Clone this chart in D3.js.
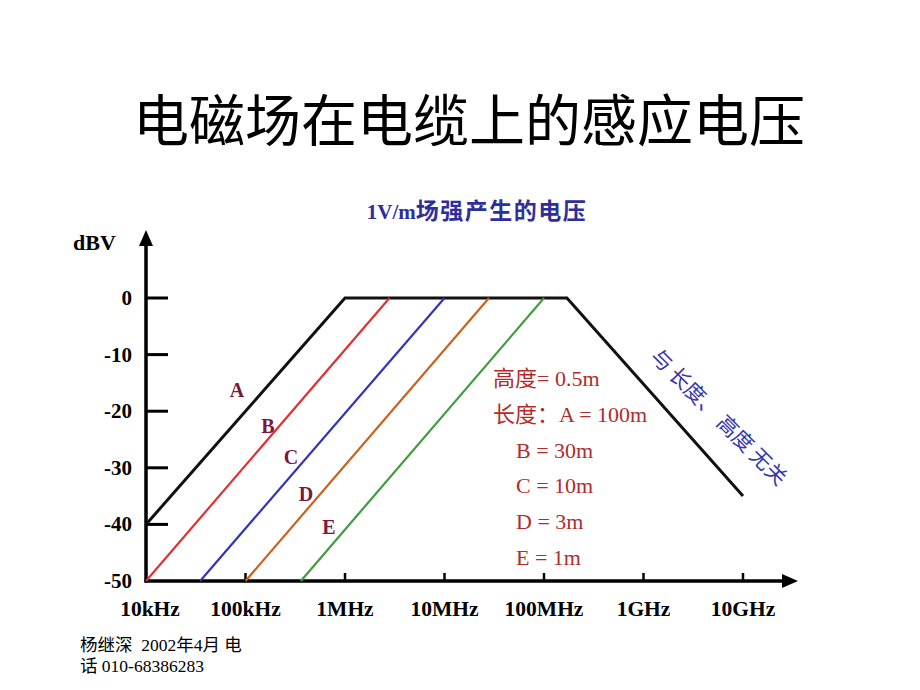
<!DOCTYPE html>
<html>
<head>
<meta charset="utf-8">
<script src="https://cdn.jsdelivr.net/npm/d3@7"></script>
<style>
  body { margin: 0; background: #fff; }
  svg { display: block; }
  text { font-family: "Liberation Serif", "Noto Sans CJK SC", serif; white-space: pre; }
</style>
</head>
<body>
<svg></svg>
<script>
const width = 920;
const height = 690;

// frequency in Hz, level in dBV
const freqTicks = [1e4, 1e5, 1e6, 1e7, 1e8, 1e9, 1e10];
const freqLabels = ["10kHz", "100kHz", "1MHz", "10MHz", "100MHz", "1GHz", "10GHz"];
const dbTicks = [0, -10, -20, -30, -40, -50];

const curveA = [[1e4, -40], [1e6, 0], [1.7e8, 0], [1e10, -35]];
const curveB = [[1e4, -50], [2.8e6, 0]];
const curveC = [[3.5e4, -50], [1e7, 0]];
const curveD = [[1e5, -50], [2.8e7, 0]];
const curveE = [[3.6e5, -50], [1e8, 0]];

const curveNames = ["A", "B", "C", "D", "E"];
const curveColors = ["#111", "#dc3232", "#3434b8", "#c8621e", "#3f9c3f"];
// where the letter tags sit (freq, dB)
const tagAt = [[8.2e4, -16.3], [1.68e5, -22.6], [2.87e5, -28.1], [4.06e5, -34.6], [6.9e5, -40.5]];

const notes = ["高度= 0.5m", "长度：A = 100m", "B = 30m", "C = 10m", "D = 3m", "E = 1m"];

const svg = d3.select("svg").attr("width", width).attr("height", height);

const x = d3.scaleLog().domain([1e4, 1e10]).range([146, 743]);
const y = d3.scaleLinear().domain([-50, 0]).range([581, 298]);

// title
svg.append("text")
  .attr("x", 469).attr("y", 141)
  .attr("text-anchor", "middle")
  .attr("font-size", 56)
  .style("font-family", "'Noto Sans CJK SC', sans-serif")
  .text("电磁场在电缆上的感应电压");

const sub = svg.append("text")
  .attr("x", 477).attr("y", 219)
  .attr("text-anchor", "middle")
  .attr("font-weight", "bold")
  .attr("fill", "#2e2e9c");
sub.append("tspan").attr("font-size", 21).text("1V/m");
sub.append("tspan").attr("font-size", 23)
  .style("font-family", "'Noto Sans CJK SC', sans-serif")
  .attr("letter-spacing", 1.5)
  .text("场强产生的电压");

// axes
const ax = x(1e4), ay = y(-50);
svg.append("line").attr("x1", ax).attr("x2", ax).attr("y1", ay + 1.5).attr("y2", 244)
  .attr("stroke", "#000").attr("stroke-width", 3.5);
svg.append("path").attr("d", `M${ax},230 L${ax - 7},246 L${ax + 7},246 Z`).attr("fill", "#000");
svg.append("line").attr("x1", ax - 1.5).attr("x2", 784).attr("y1", ay).attr("y2", ay)
  .attr("stroke", "#000").attr("stroke-width", 3.5);
svg.append("path").attr("d", `M798,${ay} L782,${ay - 7} L782,${ay + 7} Z`).attr("fill", "#000");

svg.append("text")
  .attr("x", 73).attr("y", 250)
  .attr("font-size", 22).attr("font-weight", "bold")
  .text("dBV");

svg.selectAll("line.ytick")
  .data(dbTicks.filter(d => d !== -50))
  .enter().append("line")
  .attr("class", "ytick")
  .attr("x1", ax).attr("x2", ax + 22)
  .attr("y1", d => y(d)).attr("y2", d => y(d))
  .attr("stroke", "#000").attr("stroke-width", 3);

svg.selectAll("text.ylab")
  .data(dbTicks)
  .enter().append("text")
  .attr("class", "ylab")
  .attr("x", 132).attr("y", d => y(d) + 7)
  .attr("text-anchor", "end")
  .attr("font-size", 21).attr("font-weight", "bold")
  .text(d => d);

svg.selectAll("line.xtick")
  .data(freqTicks.slice(1))
  .enter().append("line")
  .attr("class", "xtick")
  .attr("x1", d => x(d)).attr("x2", d => x(d))
  .attr("y1", ay).attr("y2", ay - 8)
  .attr("stroke", "#000").attr("stroke-width", 2.5);

svg.selectAll("text.xlab")
  .data(freqTicks)
  .enter().append("text")
  .attr("class", "xlab")
  .attr("x", (d, i) => x(d) + (i === 0 ? 4 : 0)).attr("y", 616)
  .attr("text-anchor", "middle")
  .attr("font-size", 21.5).attr("font-weight", "bold")
  .text((d, i) => freqLabels[i]);

// curves
const line = d3.line().x(d => x(d[0])).y(d => y(d[1]));
const curves = [curveA, curveB, curveC, curveD, curveE];
svg.selectAll("path.curve")
  .data(curves)
  .enter().append("path")
  .attr("class", "curve")
  .attr("d", line)
  .attr("fill", "none")
  .attr("stroke", (d, i) => curveColors[i])
  .attr("stroke-width", (d, i) => (i === 0 ? 3 : 2.2));

svg.selectAll("text.tag")
  .data(tagAt)
  .enter().append("text")
  .attr("class", "tag")
  .attr("x", d => x(d[0])).attr("y", d => y(d[1]) + 7)
  .attr("text-anchor", "middle")
  .attr("font-size", 20).attr("font-weight", "bold")
  .attr("fill", "#7a1842")
  .text((d, i) => curveNames[i]);

// length notes
svg.selectAll("text.note")
  .data(notes)
  .enter().append("text")
  .attr("class", "note")
  .attr("x", (d, i) => (i < 2 ? 493 : 516))
  .attr("y", (d, i) => 386 + i * 35.8)
  .attr("font-size", 22)
  .attr("fill", "#b02c2c")
  .text(d => d);

svg.append("text")
  .attr("transform", "translate(720,416) rotate(45)")
  .attr("text-anchor", "middle")
  .attr("dominant-baseline", "central")
  .attr("font-size", 21)
  .attr("fill", "#3636a8")
  .style("font-family", "'Noto Sans CJK SC', sans-serif")
  .text("与 长度、 高度 无关");

// footer
svg.append("text").attr("x", 80).attr("y", 651).attr("font-size", 17.5)
  .text("杨继深  2002年4月 电");
svg.append("text").attr("x", 80).attr("y", 672).attr("font-size", 17.5)
  .text("话 010-68386283");
</script>
</body>
</html>
